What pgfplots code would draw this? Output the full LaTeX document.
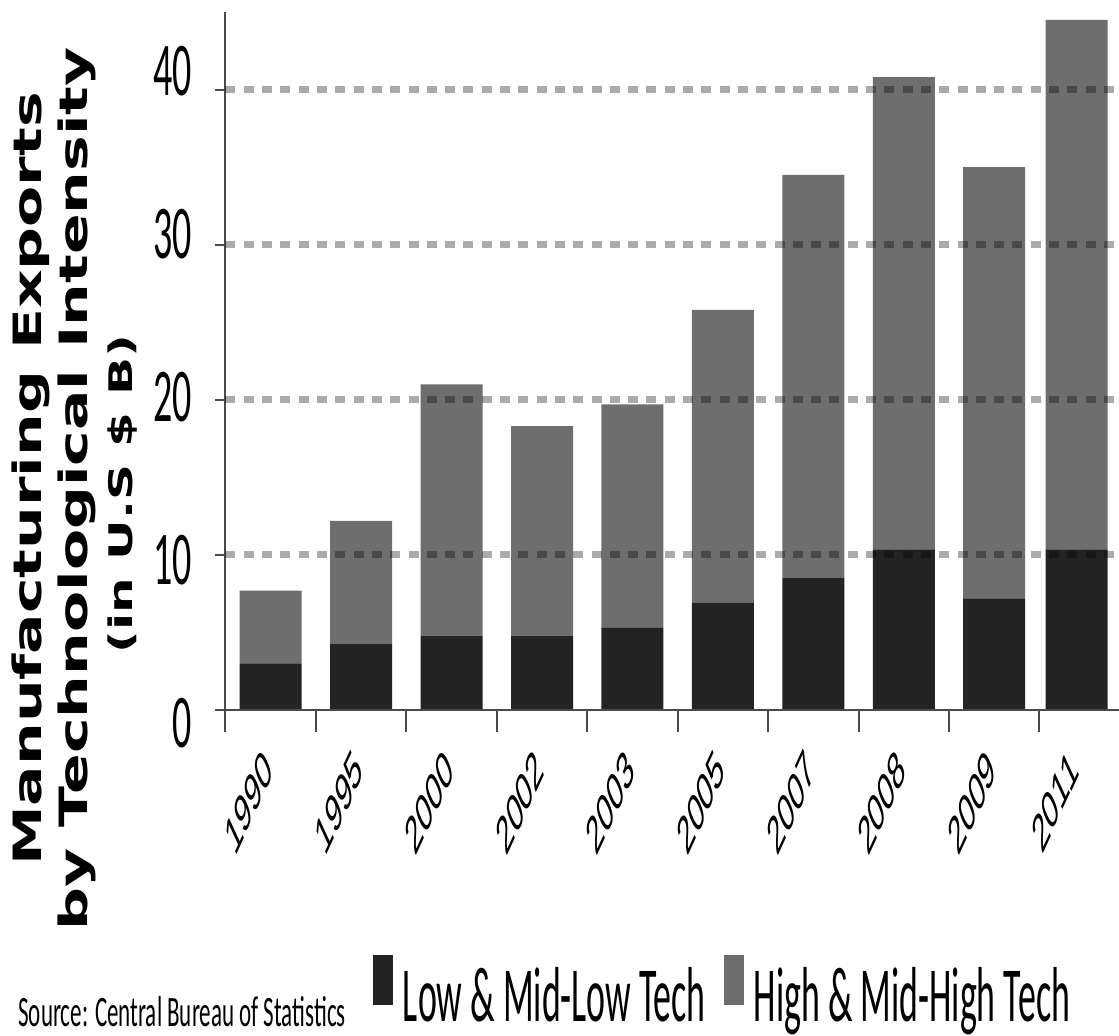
\documentclass[border=0pt]{standalone}
\usepackage{fontspec}
\usepackage{graphicx}
\usepackage{pgfplots}
\pgfplotsset{compat=1.18}
\setmainfont{Liberation Sans}
\newfontfamily\tickfont{Carlito}[FakeStretch=0.5]
\newfontfamily\legfont{Carlito}[FakeStretch=0.46]
\newfontfamily\srcfont{Carlito}[FakeStretch=0.53]
\newfontfamily\labfont{DejaVu Sans}
\newfontfamily\xfont{Liberation Sans}
\definecolor{lowc}{HTML}{232323}
\definecolor{highc}{HTML}{6E6E6E}
\definecolor{axc}{HTML}{4A4A4A}
\newcommand\xl[1]{\rotatebox{90}{\scalebox{1}[0.46]{\rotatebox{-45}{\xfont\fontsize{27}{27}\selectfont #1}}}}
\begin{document}
\begin{tikzpicture}
\begin{axis}[
  scale only axis, width=446.75pt, height=349pt,
  xmin=-0.5, xmax=9.38, ymin=0, ymax=45,
  ybar stacked, bar width=31pt,
  axis lines=left, axis line style={-, draw=axc, line width=1pt},
  tick align=outside, tick style={draw=axc, line width=1pt},
  major tick length=5pt, minor tick length=11pt,
  xtick={0,1,2,3,4,5,6,7,8,8.91},
  xticklabels={\xl{1990},\xl{1995},\xl{2000},\xl{2002},\xl{2003},\xl{2005},\xl{2007},\xl{2008},\xl{2009},\xl{2011}},
  minor xtick={-0.5,0.5,1.5,2.5,3.5,4.5,5.5,6.5,7.5,8.5},
  major x tick style={draw=none},
  xticklabel style={anchor=north east, inner sep=0pt, xshift=2pt, yshift=-13pt},
  ytick={0,10,20,30,40},
  /pgf/number format/assume math mode=true,
  yticklabel style={font=\tickfont\fontsize{38}{38}\selectfont, anchor=east, inner sep=0pt, xshift=-11.75pt, yshift=-6.5pt+3.9pt*\ticknum},
  extra y ticks={10,20,30,40},
  extra y tick labels={},
  extra y tick style={grid=major},
  grid style={draw=black, opacity=0.33, line width=3.5pt, dash pattern=on 5pt off 4.15pt},
  axis on top,
  legend columns=2,
  legend cell align=left,
  legend image code/.code={\fill[#1,/tikz/.cd,draw=none] (0pt,0pt) rectangle (10pt,25pt);},
  legend style={draw=none, fill=none, inner sep=0pt, outer sep=0pt,
    at={(axis description cs:0,0)}, anchor=north west, xshift=73.75pt, yshift=-122.5pt,
    font=\legfont\fontsize{39}{40}\selectfont,
    nodes={inner sep=0pt, text height=25pt, text depth=8pt},
    /tikz/every odd column/.append style={column sep=5pt},
    /tikz/every even column/.append style={column sep=9pt}},
]
\addplot[fill=lowc, draw=none] coordinates {(0,3.0) (1,4.25) (2,4.8) (3,4.8) (4,5.3) (5,6.9) (6,8.5) (7,10.35) (8,7.2) (8.91,10.35)};
\addplot[fill=highc, draw=none] coordinates {(0,4.7) (1,7.95) (2,16.2) (3,13.5) (4,14.4) (5,18.9) (6,26.0) (7,30.45) (8,27.8) (8.91,34.15)};
\legend{Low \& Mid-Low Tech, High \& Mid-High Tech}
\end{axis}
\node[anchor=base west, inner sep=0pt, font=\srcfont\fontsize{21.7}{22}\selectfont] at ([xshift=-103.75pt,yshift=-158.5pt]current axis.south west) {Source: Central Bureau of Statistics};
\node[rotate=90, anchor=base, inner sep=0pt] at ([xshift=-91.75pt,yshift=115.5pt]current axis.south west) {\scalebox{1}[0.65]{\labfont\bfseries\fontsize{30}{30}\selectfont Manufacturing Exports}};
\node[rotate=90, anchor=base, inner sep=0pt] at ([xshift=-68.75pt,yshift=110.5pt]current axis.south west) {\scalebox{1}[0.65]{\labfont\bfseries\fontsize{30}{30}\selectfont by Technological Intensity}};
\node[rotate=90, anchor=base, inner sep=0pt] at ([xshift=-46.25pt,yshift=108pt]current axis.south west) {\scalebox{1}[0.65]{\labfont\bfseries\fontsize{25}{25}\selectfont (in U.S \$ B)}};
\pgfresetboundingbox
\useasboundingbox ([xshift=-112.75pt,yshift=-163pt]current axis.south west) rectangle ++(559.5pt,518pt);
\end{tikzpicture}
\end{document}
